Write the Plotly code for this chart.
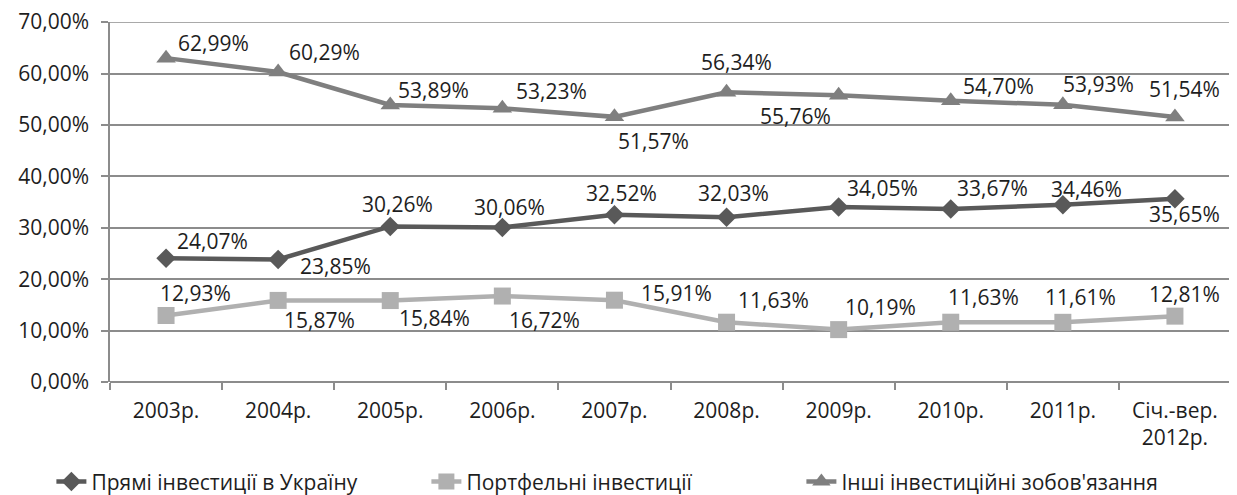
import plotly.graph_objects as go

# ---- data ----
categories = ["2003р.", "2004р.", "2005р.", "2006р.", "2007р.", "2008р.",
              "2009р.", "2010р.", "2011р.", "Січ.-вер.<br>2012р."]
direct_inv = [24.07, 23.85, 30.26, 30.06, 32.52, 32.03, 34.05, 33.67, 34.46, 35.65]
portfolio_inv = [12.93, 15.87, 15.84, 16.72, 15.91, 11.63, 10.19, 11.63, 11.61, 12.81]
other_inv = [62.99, 60.29, 53.89, 53.23, 51.57, 56.34, 55.76, 54.70, 53.93, 51.54]
series_names = ["Прямі інвестиції в Україну", "Портфельні інвестиції",
                "Інші інвестиційні зобов'язання"]
y_ticks = [0, 10, 20, 30, 40, 50, 60, 70]

# ---- label offsets (pixels: left edge of label from marker, centre above marker) ----
direct_off = [(9, 17), (20, -7), (-30, 22), (-30, 20), (-30, 22), (-31, 24),
              (6, 19), (4, 21), (-14, 16), (-28, -15)]
portfolio_off = [(-8, 23), (4, -20), (7, -17), (5, -24), (25, 7), (9, 22),
                 (4, 23), (-5, 25), (-20, 25), (-28, 22)]
other_off = [(10, 15), (9, 20), (6, 15), (12, 17), (2, -24), (-28, 30),
             (-81, -21), (10, 15), (-2, 21), (-28, 28)]

FONT = "Open Sans"
FS = 21
TXT = "#1e1e1e"
GRID = "#8c8c8c"

colors = ["#595959", "#b0b0b0", "#7f7f7f"]
symbols = ["diamond", "square", "triangle-up"]
msizes = [15, 17, 17]


def fmt(v):
    return f"{v:.2f}".replace(".", ",") + "%"


fig = go.Figure()
all_vals = [direct_inv, portfolio_inv, other_inv]
all_offs = [direct_off, portfolio_off, other_off]
for name, vals, col, sym, ms in zip(series_names, all_vals, colors, symbols, msizes):
    fig.add_trace(go.Scatter(
        x=categories, y=vals, name=name, mode="lines+markers",
        line=dict(color=col, width=4.5),
        marker=dict(symbol=sym, size=ms, color=col),
    ))

annotations = []
for vals, offs in zip(all_vals, all_offs):
    for c, v, (dx, dy) in zip(categories, vals, offs):
        annotations.append(dict(
            x=c, y=v, text=fmt(v), showarrow=False,
            xanchor="left", yanchor="middle", xshift=dx, yshift=dy,
            font=dict(family=FONT, size=FS, color=TXT),
        ))

# top gridline at the axis maximum (plotly omits the grid line on the edge)
fig.add_hline(y=y_ticks[-1], line=dict(color=GRID, width=1.5), layer="below")

# page body has an 8px margin: figure is placed at (8, 8)
fig.update_layout(
    width=1229, height=487,
    margin=dict(l=102, r=6, t=14, b=113, autoexpand=False),
    paper_bgcolor="white", plot_bgcolor="white",
    font=dict(family=FONT, size=FS, color=TXT),
    annotations=annotations,
    showlegend=True,
    legend=dict(
        orientation="h", xref="container", yref="container",
        x=0.493, xanchor="center", y=0.027, yanchor="middle",
        font=dict(family=FONT, size=FS, color=TXT),
        bgcolor="rgba(0,0,0,0)", entrywidth=330,
    ),
)
fig.update_xaxes(
    type="category", range=[-0.5, 9.5], automargin=False,
    showline=False, showgrid=False, zeroline=False,
    ticks="outside", tickson="boundaries", ticklen=7, tickcolor=GRID, tickwidth=1.5,
    ticklabelstandoff=14,
    tickfont=dict(family=FONT, size=FS, color=TXT),
)
fig.update_yaxes(
    range=[0, 70.02], tickmode="array", tickvals=y_ticks, automargin=False,
    ticktext=[fmt(t) for t in y_ticks], ticklabeloverflow="allow",
    showgrid=True, gridcolor=GRID, gridwidth=1.5,
    zeroline=True, zerolinecolor=GRID, zerolinewidth=1.5,
    showline=True, linecolor=GRID, linewidth=1.5,
    ticks="outside", ticklen=7, tickcolor=GRID, tickwidth=1.5,
    ticklabelstandoff=8,
    tickfont=dict(family=FONT, size=FS, color=TXT),
)

fig.write_html("out.html")
